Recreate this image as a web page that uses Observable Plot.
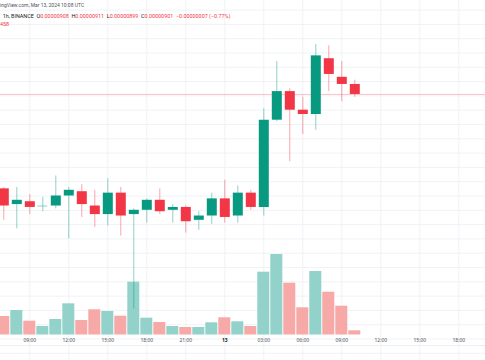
<!DOCTYPE html>
<html><head><meta charset="utf-8">
<script src="https://cdn.jsdelivr.net/npm/d3@7"></script>
<script src="https://cdn.jsdelivr.net/npm/@observablehq/plot@0.6"></script>
<style>
html,body{margin:0;padding:0;background:#fff;}
#chart{position:relative;width:485px;height:360px;overflow:hidden;font-family:Roboto,"Liberation Sans",sans-serif;}
#chart svg{position:absolute;left:0;top:0;}
.hdr{position:absolute;left:0;white-space:nowrap;color:#131722;}
.r{color:#f23645;}
#sep{position:absolute;left:0;top:345px;width:485px;height:1px;background:#eceef2;}
</style></head><body>
<div id="chart">
  <div id="sep"></div>
</div>
<script>
// hourly candles, BINANCE 1h
const times = [
  "2024-03-12T07:00Z","2024-03-12T08:00Z","2024-03-12T09:00Z","2024-03-12T10:00Z",
  "2024-03-12T11:00Z","2024-03-12T12:00Z","2024-03-12T13:00Z","2024-03-12T14:00Z",
  "2024-03-12T15:00Z","2024-03-12T16:00Z","2024-03-12T17:00Z","2024-03-12T18:00Z",
  "2024-03-12T19:00Z","2024-03-12T20:00Z","2024-03-12T21:00Z","2024-03-12T22:00Z",
  "2024-03-12T23:00Z","2024-03-13T00:00Z","2024-03-13T01:00Z","2024-03-13T02:00Z",
  "2024-03-13T03:00Z","2024-03-13T04:00Z","2024-03-13T05:00Z","2024-03-13T06:00Z",
  "2024-03-13T07:00Z","2024-03-13T08:00Z","2024-03-13T09:00Z","2024-03-13T10:00Z"
];
const open  = [835,824,826,823,823,830,833,823,817,832,817,820,827,820,822,813,816,828,816,832,822,883,903,890,887,926,913,908].map(v => v * 1e-8);
const high  = [836,836,831,829,844,836,838,834,842,836,821,828,835,824,823,819,832,841,837,834,891,924,905,899,936,935,924,911].map(v => v * 1e-8);
const low   = [813,807,817,819,821,800,815,808,809,802,751,811,817,811,804,806,810,811,811,820,816,882,854,873,876,903,896,899].map(v => v * 1e-8);
const close = [823,827,822,823,830,834,824,817,832,816,820,827,819,822,812,816,828,815,832,822,883,903,890,887,928,915,908,901].map(v => v * 1e-8);
const volume = [185,245,138,85,155,312,145,252,235,188,528,168,125,85,75,75,122,172,132,85,628,805,518,272,635,428,288,42];

const tickTimes = ["2024-03-12T09:00Z","2024-03-12T12:00Z","2024-03-12T15:00Z","2024-03-12T18:00Z",
  "2024-03-12T21:00Z","2024-03-13T00:00Z","2024-03-13T03:00Z","2024-03-13T06:00Z",
  "2024-03-13T09:00Z","2024-03-13T12:00Z","2024-03-13T15:00Z","2024-03-13T18:00Z"];
const tickLabels = ["09:00","12:00","15:00","18:00","21:00","13","03:00","06:00","09:00","12:00","15:00","18:00"];
const gridPrices = d3.range(70, 98).map(k => k * 1e-7);

const UP = "#089981", DOWN = "#f23645";
const VUP = "#92d2ca", VDOWN = "#f7a9a8";

const candles = times.map((t, i) => ({
  t: new Date(t), o: open[i], h: high[i], l: low[i], c: close[i], v: volume[i],
  up: close[i] >= open[i]
}));
const ticks = tickTimes.map((t, i) => ({t: new Date(t), label: tickLabels[i], day: !tickLabels[i].includes(":")}));

// layout of the pane
const W = 485, H = 360, HOUR = 3600e3;
const t0 = new Date(Date.UTC(2024, 2, 12, 9) - (29.3 / 13) * HOUR);
const t1 = new Date(+t0 + (W / 13) * HOUR);
const xOpt = {type: "utc", domain: [t0, t1], axis: null};
const yPrice = {domain: [714.97e-8, 966.71e-8], axis: null};
const base = {width: W, height: H, margin: 0, style: {background: "transparent", overflow: "visible"}};

const chart = document.getElementById("chart");

// layer 1: grid
chart.append(Plot.plot({
  ...base, x: xOpt, y: yPrice,
  marks: [
    Plot.ruleY(gridPrices, {stroke: "#f0f2f6", strokeWidth: 1}),
    Plot.ruleX(ticks, {x: "t", stroke: "#f0f2f6", strokeWidth: 1})
  ]
}));

// layer 2: volume + time axis
chart.append(Plot.plot({
  ...base, marginBottom: 25.5, x: xOpt,
  y: {domain: [0, 3345], axis: null},
  color: {type: "identity"},
  marks: [
    Plot.rectY(candles, {
      x1: d => new Date(+d.t - HOUR / 2), x2: d => new Date(+d.t + HOUR / 2),
      y: "v", fill: d => d.up ? VUP : VDOWN, insetLeft: 0.5, insetRight: 0.5
    }),
    Plot.text(ticks.filter(d => !d.day), {x: "t", text: "label", frameAnchor: "bottom", dy: 6.5, fontSize: 5, fill: "#50535e"}),
    Plot.text(ticks.filter(d => d.day), {x: "t", text: "label", frameAnchor: "bottom", dy: 6.5, fontSize: 5, fontWeight: "bold", fill: "#131722"})
  ]
}));

// layer 3: candles
chart.append(Plot.plot({
  ...base, x: xOpt, y: yPrice,
  color: {type: "identity"},
  marks: [
    Plot.ruleY([close[close.length - 1]], {stroke: DOWN, strokeOpacity: 0.3}),
    Plot.ruleX(candles, {x: "t", y1: "l", y2: "h", stroke: d => d.up ? UP : DOWN, strokeOpacity: 0.45}),
    Plot.ruleX(candles, {x: "t", y1: "o", y2: "c", stroke: d => d.up ? UP : DOWN, strokeWidth: 10}),
    Plot.ruleY(candles.filter(d => d.o === d.c), {
      y: "o", x1: d => new Date(+d.t - 0.38 * HOUR), x2: d => new Date(+d.t + 0.38 * HOUR),
      stroke: UP, strokeOpacity: 0.45
    })
  ]
}));

// header legend (overlay)
const h1 = document.createElement("div");
h1.className = "hdr";
h1.style.cssText = "top:2.8px;font-size:5px;line-height:5px;color:#50535e;";
h1.textContent = "ingView.com, Mar 13, 2024 10:08 UTC";
chart.append(h1);

const h2 = document.createElement("div");
h2.className = "hdr";
h2.style.cssText = "top:13.6px;left:2.7px;font-size:5.4px;line-height:5.4px;";
h2.innerHTML = '1h, BINANCE &nbsp;O<span class="r">0.00000908</span> &nbsp;H<span class="r">0.00000911</span> &nbsp;L<span class="r">0.00000899</span> &nbsp;C<span class="r">0.00000901</span> &nbsp;<span class="r">\u22120.00000007 (\u22120.77%)</span>';
chart.append(h2);

const h3 = document.createElement("div");
h3.className = "hdr r";
h3.style.cssText = "top:21.8px;font-size:5.4px;line-height:5.4px;";
h3.textContent = "458";
chart.append(h3);
</script>
</body></html>
